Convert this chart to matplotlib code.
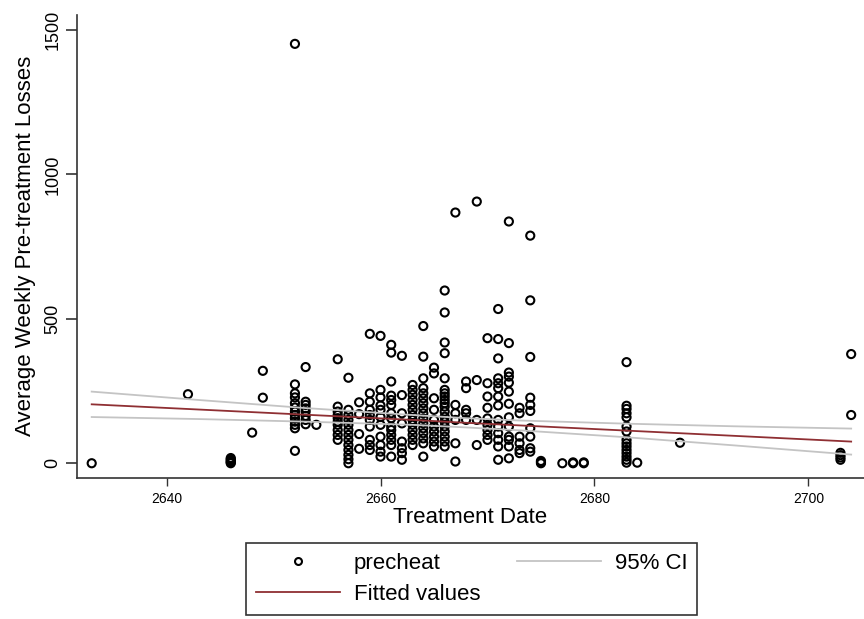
"""Stata-style scatter of pre-treatment losses vs treatment date, with linear fit and 95% CI."""

import matplotlib
matplotlib.use("Agg")
import matplotlib.pyplot as plt
from matplotlib.lines import Line2D

plt.rcParams["font.family"] = ["Liberation Sans", "DejaVu Sans"]

# treatment dates (one column of points per date) and the losses
dates = [2633, 2642, 2646, 2648, 2649, 2652, 2653, 2654, 2656, 2657, 2658, 2659,
         2660, 2661, 2662, 2663, 2664, 2665, 2666, 2667, 2668, 2669, 2670, 2671,
         2672, 2673, 2674, 2675, 2677, 2678, 2679, 2683, 2684, 2688, 2703, 2704]
losses = [
    [0],
    [239],
    [0, 3, 6, 10, 14, 18],
    [106],
    [320, 227],
    [1452, 273, 242, 228, 208, 193, 179, 167, 156, 144, 133, 121, 43],
    [333, 213, 202, 190, 179, 164, 150, 135],
    [133],
    [360, 196, 179, 167, 156, 144, 133, 115, 98, 81],
    [296, 185, 167, 150, 133, 115, 98, 81, 63, 46, 29, 14, 0],
    [211, 170, 101, 50],
    [448, 242, 213, 185, 167, 150, 127, 81, 63, 46],
    [441, 254, 228, 200, 185, 160, 133, 92, 63, 40, 23],
    [410, 383, 283, 234, 219, 202, 173, 156, 127, 115, 98, 81, 63, 23],
    [372, 236, 173, 138, 75, 52, 35, 12],
    [271, 254, 237, 219, 202, 185, 167, 150, 133, 115, 98, 81, 63],
    [475, 369, 294, 260, 242, 225, 208, 190, 173, 155, 138, 121, 104, 86, 69, 23],
    [331, 311, 225, 185, 150, 127, 110, 92, 75, 58],
    [598, 522, 418, 381, 294, 254, 242, 231, 219, 208, 196, 179, 161, 144, 127, 110, 92, 75, 58],
    [868, 202, 173, 150, 69, 6],
    [283, 260, 185, 173, 150],
    [906, 288, 150, 63],
    [433, 277, 231, 192, 155, 133, 115, 98, 81],
    [534, 430, 363, 294, 277, 260, 231, 200, 150, 127, 104, 81, 58, 12],
    [837, 416, 314, 300, 279, 248, 206, 159, 127, 92, 81, 58, 17],
    [192, 173, 92, 69, 46, 35],
    [788, 564, 368, 227, 202, 181, 121, 92, 52, 40],
    [0, 4, 8],
    [0],
    [0, 3],
    [0, 3],
    [350, 199, 188, 173, 159, 127, 110, 81, 69, 58, 46, 35, 23, 12, 2],
    [2],
    [71],
    [12, 20, 28, 36],
    [378, 167],
]

# fitted line and confidence band, read at a few dates
fit_x = [2633, 2643, 2653, 2663, 2668, 2673, 2683, 2693, 2704]
fit_y = [204, 186, 168, 150, 140, 131, 113, 95, 75]
ci_hi = [248, 219, 191, 167, 156, 148, 137, 128, 120]
ci_lo = [160, 153, 144, 133, 124, 114, 90, 62, 30]

xticks = [2640, 2660, 2680, 2700]
yticks = [0, 500, 1000, 1500]

MAROON = "#8f2f33"
CI_GREY = "#c4c4c4"
AXIS = "#333333"

px, py = [], []
for d, vals in zip(dates, losses):
    px += [d] * len(vals)
    py += vals

fig = plt.figure(figsize=(8.64, 6.19), dpi=100)
ax = fig.add_axes([0.0888, 0.2283, 0.9112, 0.7475])

ax.scatter(px, py, s=34, facecolors="none", edgecolors="black", linewidths=1.5, zorder=2)
ax.plot(fit_x, ci_hi, color=CI_GREY, lw=1.3, zorder=3)
ax.plot(fit_x, ci_lo, color=CI_GREY, lw=1.3, zorder=3)
ax.plot(fit_x, fit_y, color=MAROON, lw=1.3, zorder=4)

ax.set_xlim(2631.6, 2705.2)
ax.set_ylim(-50, 1552)
ax.set_xticks(xticks)
ax.set_yticks(yticks)
ax.tick_params(axis="x", labelsize=10, length=6, width=1, color=AXIS, pad=4)
ax.tick_params(axis="y", labelsize=13, length=8, width=1.2, color=AXIS, pad=3)
for lab in ax.get_yticklabels():
    lab.set_rotation(90)
    lab.set_va("center")

for side in ("top", "right"):
    ax.spines[side].set_visible(False)
for side in ("left", "bottom"):
    ax.spines[side].set_color(AXIS)
    ax.spines[side].set_linewidth(1.2)

ax.set_xlabel("Treatment Date", fontsize=16, labelpad=1)
ax.set_ylabel("Average Weekly Pre-treatment Losses", fontsize=16, labelpad=6)

handles = [
    Line2D([], [], ls="none", marker="o", markersize=5, markerfacecolor="none",
           markeredgecolor="black", markeredgewidth=1.5),
    Line2D([], [], color=MAROON, lw=1.3),
    Line2D([], [], color=CI_GREY, lw=1.3),
]
labels = ["precheat", "Fitted values", "95% CI"]
leg = fig.legend(handles, labels, ncol=2, loc="center", bbox_to_anchor=(471.7 / 864, 1 - 579 / 619),
                 fontsize=16, frameon=True, fancybox=False, edgecolor="black",
                 handlelength=3.8, columnspacing=1.65, handletextpad=0.6,
                 borderpad=0.45, labelspacing=0.47)
leg.get_frame().set_linewidth(1.2)

fig.savefig("out.png", dpi=100, facecolor="white")
